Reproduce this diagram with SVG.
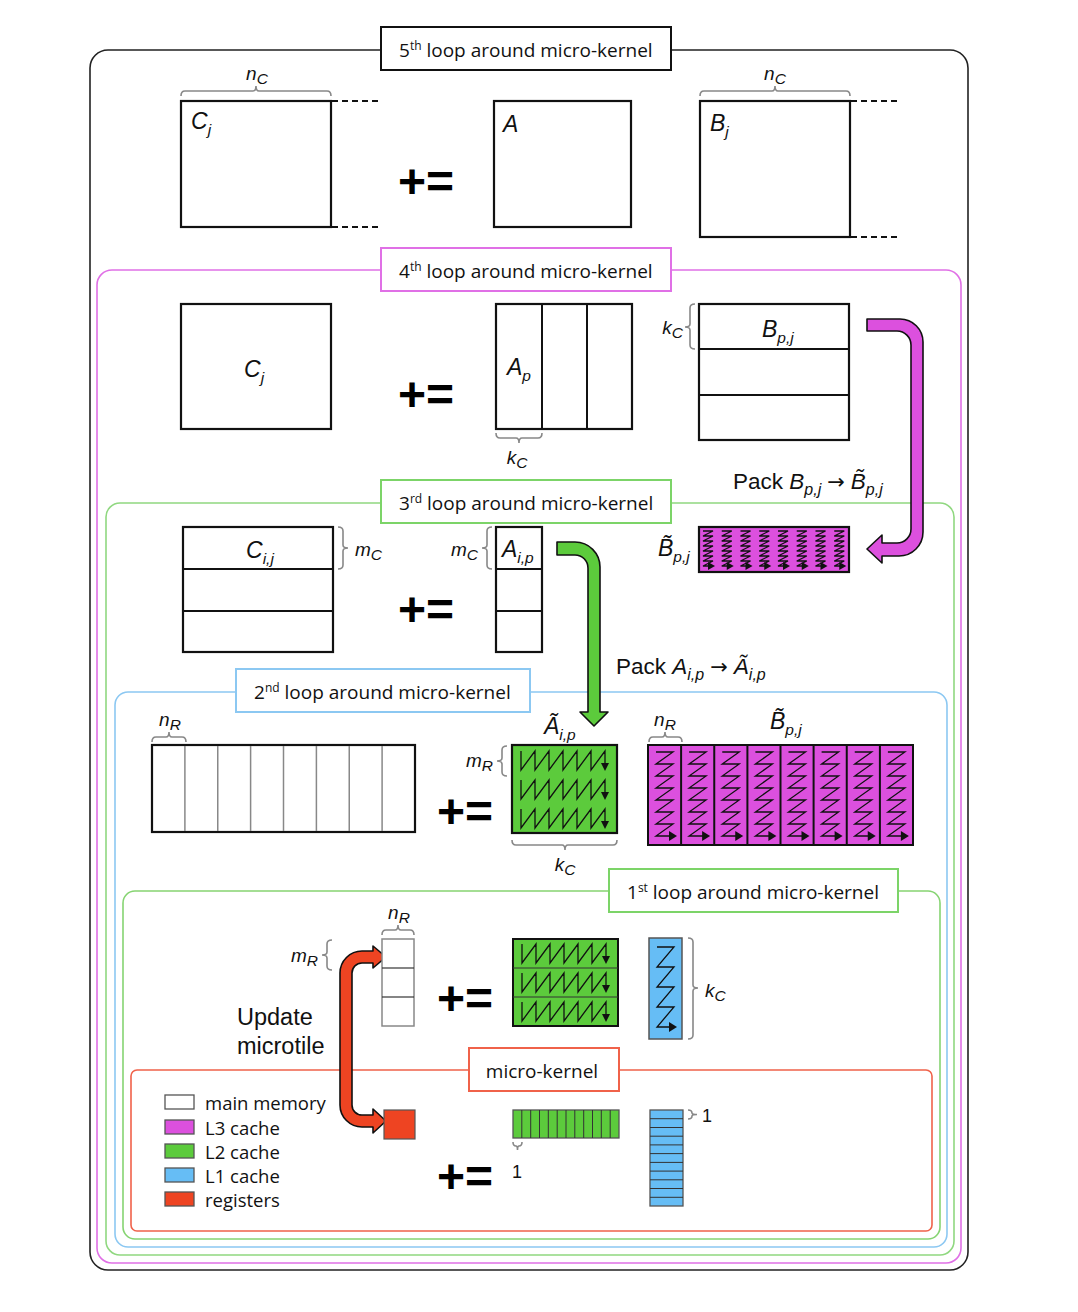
<svg xmlns="http://www.w3.org/2000/svg" xmlns:xlink="http://www.w3.org/1999/xlink" width="1078" height="1312" viewBox="0 0 1078 1312">
<style>
.frame{fill:none;stroke-width:1.6}
.lbox{fill:#fff;stroke-width:2}
.ltxt{font-family:"Open Sans","Liberation Sans",sans-serif;font-size:19px;fill:#111}
.sup{font-size:12px}
.m{font-family:"Liberation Sans",Arial,sans-serif;font-style:italic;fill:#111}
.big{font-size:23px}
.mid{font-size:19px}
.sub{font-size:15.5px}
.op{font-family:"Liberation Sans",Arial,sans-serif;font-weight:bold;font-size:48px;fill:#000}
.mat{fill:#fff;stroke:#111;stroke-width:2.2}
.div{stroke:#111;stroke-width:2}
.gdiv{stroke:#888;stroke-width:1.5}
.brace{fill:none;stroke:#888;stroke-width:1.6}
.dash{stroke:#111;stroke-width:2;stroke-dasharray:6 4}
.zz{fill:none;stroke:#111;stroke-width:1.3}
.ah{fill:#111}
.txt{font-family:"Liberation Sans",Arial,sans-serif;fill:#111}
.arr{font-family:"DejaVu Sans",sans-serif;font-size:21px;font-style:normal}
.leg{font-family:"Open Sans","Liberation Sans",sans-serif;font-size:18.5px;fill:#111}
</style>
<defs>
<g id="bcol"><path class="zz" d="M8,7 H25 L8,19 H25 L8,31 H25 L8,43 H25 L8,55 H25 L8,67 H25 L8,79 H25 L8,91 H22"/><polygon class="ah" points="21,86 29,91 21,96"/></g>
<g id="bsc"><path class="zz" d="M4,4 H14 L4,9 H14 L4,14 H14 L4,19 H14 L4,24 H14 L4,29 H14 L4,34 H14 L4,39 H10"/><polygon class="ah" points="9,35 16,39 9,43"/></g>
<g id="arow"><path class="zz" d="M9,5 V24 L23,5 V24 L37,5 V24 L51,5 V24 L65,5 V24 L79,5 V24 L93,5 V18"/><polygon class="ah" points="89,17 97,17 93,25"/></g>
<g id="lcol"><path class="zz" d="M8,9 H25 L8,29 H25 L8,49 H25 L8,69 H25 L8,89 H21"/><polygon class="ah" points="20,84 28,89 20,94"/></g>
</defs>

<!-- frames -->
<g id="frames">
<rect class="frame" x="90" y="50" width="878" height="1220" rx="18" stroke="#222"/>
<rect class="frame" x="97" y="270" width="864" height="993" rx="15" stroke="#e070e6"/>
<rect class="frame" x="106" y="503" width="848" height="752" rx="14" stroke="#90d880"/>
<rect class="frame" x="115" y="692" width="832" height="555" rx="13" stroke="#8cc8f2"/>
<rect class="frame" x="123" y="891" width="817" height="348" rx="12" stroke="#86d472"/>
<rect class="frame" x="131" y="1070" width="801" height="161" rx="6" stroke="#f0624a"/>
</g>

<g id="label5"><rect class="lbox" x="381" y="27" width="290" height="43" stroke="#111"/><text class="ltxt" x="399" y="57">5<tspan class="sup" dy="-7">th</tspan><tspan dy="7"> loop around micro-kernel</tspan></text></g>
<g id="label4"><rect class="lbox" x="381" y="248" width="290" height="43" stroke="#e070e6"/><text class="ltxt" x="399" y="278">4<tspan class="sup" dy="-7">th</tspan><tspan dy="7"> loop around micro-kernel</tspan></text></g>
<g id="label3"><rect class="lbox" x="381" y="480" width="290" height="43" stroke="#7cd468"/><text class="ltxt" x="399" y="510">3<tspan class="sup" dy="-7">rd</tspan><tspan dy="7"> loop around micro-kernel</tspan></text></g>
<g id="label2"><rect class="lbox" x="236" y="669" width="294" height="43" stroke="#8cc8f2"/><text class="ltxt" x="254" y="699">2<tspan class="sup" dy="-7">nd</tspan><tspan dy="7"> loop around micro-kernel</tspan></text></g>
<g id="label1"><rect class="lbox" x="609" y="869" width="289" height="43" stroke="#7cd468"/><text class="ltxt" x="627" y="899">1<tspan class="sup" dy="-7">st</tspan><tspan dy="7"> loop around micro-kernel</tspan></text></g>
<g id="labelmk"><rect class="lbox" x="469" y="1048" width="150" height="43" stroke="#f0624a"/><text class="ltxt" x="542" y="1078" text-anchor="middle">micro-kernel</text></g>

<!-- 5th loop -->
<g id="Cj5">
<rect class="mat" x="181" y="101" width="150" height="126"/>
<line class="dash" x1="332" y1="101" x2="380" y2="101"/>
<line class="dash" x1="332" y1="227" x2="380" y2="227"/>
<path class="brace" d="M181 96 Q181 91 185 91 H253 Q256 91 256 86 Q256 91 259 91 H327 Q331 91 331 96"/>
<text class="m mid" x="257" y="80" text-anchor="middle">n<tspan class="sub" dy="4">C</tspan></text>
<text class="m big" x="191" y="129">C<tspan class="sub" dy="6">j</tspan></text>
</g>
<text class="op" x="398" y="198">+=</text>
<g id="A5">
<rect class="mat" x="494" y="101" width="137" height="126"/>
<text class="m big" x="503" y="132">A</text>
</g>
<g id="Bj5">
<rect class="mat" x="700" y="101" width="150" height="136"/>
<line class="dash" x1="851" y1="101" x2="898" y2="101"/>
<line class="dash" x1="851" y1="237" x2="898" y2="237"/>
<path class="brace" d="M700 96 Q700 91 704 91 H772 Q775 91 775 86 Q775 91 778 91 H846 Q850 91 850 96"/>
<text class="m mid" x="775" y="80" text-anchor="middle">n<tspan class="sub" dy="4">C</tspan></text>
<text class="m big" x="710" y="131">B<tspan class="sub" dy="6">j</tspan></text>
</g>

<!-- 4th loop -->
<g id="Cj4">
<rect class="mat" x="181" y="304" width="150" height="125"/>
<text class="m big" x="244" y="377">C<tspan class="sub" dy="6">j</tspan></text>
</g>
<text class="op" x="398" y="411">+=</text>
<g id="Ap">
<rect class="mat" x="496" y="304" width="136" height="125"/>
<line class="div" x1="542" y1="304" x2="542" y2="429"/>
<line class="div" x1="587" y1="304" x2="587" y2="429"/>
<text class="m big" x="507" y="375">A<tspan class="sub" dy="6">p</tspan></text>
<path class="brace" d="M496 433 Q496 438 500 438 H516 Q519 438 519 443 Q519 438 522 438 H538 Q542 438 542 433"/>
<text class="m mid" x="517" y="464" text-anchor="middle">k<tspan class="sub" dy="4">C</tspan></text>
</g>
<g id="Bpj">
<rect class="mat" x="699" y="304" width="150" height="136"/>
<line class="div" x1="699" y1="349" x2="849" y2="349"/>
<line class="div" x1="699" y1="395" x2="849" y2="395"/>
<text class="m big" x="762" y="337">B<tspan class="sub" dy="6">p,j</tspan></text>
<path class="brace" d="M695 304 Q690 304 690 308 V324 Q690 327 685 327 Q690 327 690 330 V345 Q690 349 695 349"/>
<text class="m mid" x="683" y="334" text-anchor="end">k<tspan class="sub" dy="4">C</tspan></text>
</g>

<g id="connectors">
<path d="M867 319 H900 A23 23 0 0 1 923 342 V532 A24 24 0 0 1 899 556 H882 V563 L867 549 L882 535 V543 H897 A14 14 0 0 0 911 529 V345 A14 14 0 0 0 897 331 H867 Z" fill="#dc50de" stroke="#111" stroke-width="1.6" stroke-linejoin="round"/>
<path d="M557 542 H575 A25 25 0 0 1 600 567 V712 H608 L594 726 L580 712 H588 V568 A13 13 0 0 0 575 555 H557 Z" fill="#5ccb3c" stroke="#111" stroke-width="1.6" stroke-linejoin="round"/>
<path d="M373 951 H362 A22 22 0 0 0 340 973 V1105 A22 22 0 0 0 362 1127 H373 V1133 L386 1121 L373 1109 V1115 H362 A10 10 0 0 1 352 1105 V973 A10 10 0 0 1 362 963 H373 V968 L386 957 L373 946 Z" fill="#ee4422" stroke="#111" stroke-width="1.6" stroke-linejoin="round"/>
</g>

<text class="txt" x="733" y="489" font-size="22.5">Pack <tspan font-style="italic">B</tspan><tspan font-style="italic" font-size="16" dy="6">p,j</tspan><tspan dy="-6" dx="6" class="arr">→</tspan><tspan font-style="italic" dx="6">B&#x303;</tspan><tspan font-style="italic" font-size="16" dy="6">p,j</tspan></text>

<g id="Bpack">
<rect x="699" y="527" width="150" height="45" fill="#dc50de" stroke="#111" stroke-width="2.2"/>
<use xlink:href="#bsc" x="699" y="527"/><use xlink:href="#bsc" x="717.75" y="527"/><use xlink:href="#bsc" x="736.5" y="527"/><use xlink:href="#bsc" x="755.25" y="527"/>
<use xlink:href="#bsc" x="774" y="527"/><use xlink:href="#bsc" x="792.75" y="527"/><use xlink:href="#bsc" x="811.5" y="527"/><use xlink:href="#bsc" x="830.25" y="527"/>
<text class="m big" x="658" y="556">B&#x303;<tspan class="sub" dy="6">p,j</tspan></text>
</g>

<!-- 3rd loop -->
<g id="Cij">
<rect class="mat" x="183" y="527" width="150" height="125"/>
<line class="div" x1="183" y1="569" x2="333" y2="569"/>
<line class="div" x1="183" y1="611" x2="333" y2="611"/>
<text class="m big" x="246" y="558">C<tspan class="sub" dy="6">i,j</tspan></text>
<path class="brace" d="M338 527 Q343 527 343 531 V545 Q343 548 348 548 Q343 548 343 551 V565 Q343 569 338 569"/>
<text class="m mid" x="355" y="556">m<tspan class="sub" dy="4">C</tspan></text>
</g>
<text class="op" x="398" y="626">+=</text>
<g id="Aip">
<rect class="mat" x="496" y="527" width="46" height="125"/>
<line class="div" x1="496" y1="569" x2="542" y2="569"/>
<line class="div" x1="496" y1="611" x2="542" y2="611"/>
<text class="m big" x="502" y="557">A<tspan class="sub" dy="6">i,p</tspan></text>
<path class="brace" d="M492 527 Q487 527 487 531 V545 Q487 548 482 548 Q487 548 487 551 V565 Q487 569 492 569"/>
<text class="m mid" x="478" y="556" text-anchor="end">m<tspan class="sub" dy="4">C</tspan></text>
</g>

<text class="txt" x="616" y="674" font-size="22.5">Pack <tspan font-style="italic">A</tspan><tspan font-style="italic" font-size="16" dy="6">i,p</tspan><tspan dy="-6" dx="6" class="arr">→</tspan><tspan font-style="italic" dx="6">A&#x303;</tspan><tspan font-style="italic" font-size="16" dy="6">i,p</tspan></text>

<!-- 2nd loop -->
<g id="Crow">
<rect class="mat" x="152" y="745" width="263" height="87"/>
<line class="gdiv" x1="184.9" y1="746" x2="184.9" y2="831"/><line class="gdiv" x1="217.75" y1="746" x2="217.75" y2="831"/>
<line class="gdiv" x1="250.6" y1="746" x2="250.6" y2="831"/><line class="gdiv" x1="283.5" y1="746" x2="283.5" y2="831"/>
<line class="gdiv" x1="316.4" y1="746" x2="316.4" y2="831"/><line class="gdiv" x1="349.25" y1="746" x2="349.25" y2="831"/>
<line class="gdiv" x1="382.1" y1="746" x2="382.1" y2="831"/>
<path class="brace" d="M152 742 Q152 737 156 737 H166 Q169 737 169 732 Q169 737 172 737 H182 Q186 737 186 742"/>
<text class="m mid" x="170" y="726" text-anchor="middle">n<tspan class="sub" dy="4">R</tspan></text>
</g>
<text class="op" x="437" y="828">+=</text>
<g id="Apack">
<rect x="512" y="745" width="105" height="88" fill="#5ccb3c" stroke="#111" stroke-width="2.2"/>
<use xlink:href="#arow" x="512" y="746"/><use xlink:href="#arow" x="512" y="775"/><use xlink:href="#arow" x="512" y="804"/>
<text class="m big" x="544" y="734">A&#x303;<tspan class="sub" dy="6">i,p</tspan></text>
<path class="brace" d="M507 746 Q502 746 502 750 V758 Q502 761 497 761 Q502 761 502 764 V772 Q502 776 507 776"/>
<text class="m mid" x="493" y="767" text-anchor="end">m<tspan class="sub" dy="4">R</tspan></text>
<path class="brace" d="M512 840 Q512 845 516 845 H562 Q565 845 565 850 Q565 845 568 845 H613 Q617 845 617 840"/>
<text class="m mid" x="565" y="871" text-anchor="middle">k<tspan class="sub" dy="4">C</tspan></text>
</g>
<g id="Bpack2">
<rect x="648" y="745" width="265" height="100" fill="#dc50de" stroke="#111" stroke-width="2"/>
<line class="div" x1="681.1" y1="745" x2="681.1" y2="845" stroke-width="1"/><line class="div" x1="714.25" y1="745" x2="714.25" y2="845" stroke-width="1"/>
<line class="div" x1="747.4" y1="745" x2="747.4" y2="845" stroke-width="1"/><line class="div" x1="780.5" y1="745" x2="780.5" y2="845" stroke-width="1"/>
<line class="div" x1="813.6" y1="745" x2="813.6" y2="845" stroke-width="1"/><line class="div" x1="846.75" y1="745" x2="846.75" y2="845" stroke-width="1"/>
<line class="div" x1="879.9" y1="745" x2="879.9" y2="845" stroke-width="1"/>
<use xlink:href="#bcol" x="648" y="745"/><use xlink:href="#bcol" x="681.1" y="745"/><use xlink:href="#bcol" x="714.25" y="745"/><use xlink:href="#bcol" x="747.4" y="745"/>
<use xlink:href="#bcol" x="780.5" y="745"/><use xlink:href="#bcol" x="813.6" y="745"/><use xlink:href="#bcol" x="846.75" y="745"/><use xlink:href="#bcol" x="879.9" y="745"/>
<path class="brace" d="M649 742 Q649 737 653 737 H662 Q665 737 665 732 Q665 737 668 737 H678 Q682 737 682 742"/>
<text class="m mid" x="665" y="726" text-anchor="middle">n<tspan class="sub" dy="4">R</tspan></text>
<text class="m big" x="770" y="729">B&#x303;<tspan class="sub" dy="6">p,j</tspan></text>
</g>

<!-- 1st loop -->
<g id="Ccol">
<rect x="382" y="939" width="32" height="87" fill="#fff" stroke="#888" stroke-width="1.5"/>
<line x1="382" y1="968" x2="414" y2="968" stroke="#333" stroke-width="1.2"/>
<line x1="382" y1="997" x2="414" y2="997" stroke="#333" stroke-width="1.2"/>
<path class="brace" d="M382 935 Q382 930 386 930 H395 Q398 930 398 925 Q398 930 401 930 H410 Q414 930 414 935"/>
<text class="m mid" x="399" y="919" text-anchor="middle">n<tspan class="sub" dy="4">R</tspan></text>
<path class="brace" d="M332 940 Q327 940 327 944 V952 Q327 955 322 955 Q327 955 327 958 V966 Q327 970 332 970"/>
<text class="m mid" x="318" y="962" text-anchor="end">m<tspan class="sub" dy="4">R</tspan></text>
</g>
<text class="txt" x="237" y="1025" font-size="23.5">Update</text>
<text class="txt" x="237" y="1054" font-size="23.5">microtile</text>
<text class="op" x="437" y="1015">+=</text>
<g id="Apanel">
<rect x="513" y="939" width="105" height="87" fill="#5ccb3c" stroke="#111" stroke-width="2"/>
<line x1="513" y1="968" x2="618" y2="968" stroke="#333" stroke-width="1"/>
<line x1="513" y1="997" x2="618" y2="997" stroke="#333" stroke-width="1"/>
<use xlink:href="#arow" x="513" y="939"/><use xlink:href="#arow" x="513" y="968"/><use xlink:href="#arow" x="513" y="997"/>
</g>
<g id="Bpanel">
<rect x="649" y="938" width="33" height="101" fill="#66bdf5" stroke="#555" stroke-width="1.5"/>
<use xlink:href="#lcol" x="649" y="938"/>
<path class="brace" d="M688 938 Q693 938 693 942 V985 Q693 988 698 988 Q693 988 693 991 V1035 Q693 1039 688 1039"/>
<text class="m mid" x="705" y="997">k<tspan class="sub" dy="4">C</tspan></text>
</g>

<!-- micro-kernel -->
<g id="legend">
<rect x="165" y="1095" width="29" height="14" fill="#fff" stroke="#555" stroke-width="1.3"/>
<text class="leg" x="205" y="1110">main memory</text>
<rect x="165" y="1120" width="29" height="14" fill="#dc50de" stroke="#555" stroke-width="1.3"/>
<text class="leg" x="205" y="1135">L3 cache</text>
<rect x="165" y="1144" width="29" height="14" fill="#5ccb3c" stroke="#555" stroke-width="1.3"/>
<text class="leg" x="205" y="1159">L2 cache</text>
<rect x="165" y="1168" width="29" height="14" fill="#66bdf5" stroke="#555" stroke-width="1.3"/>
<text class="leg" x="205" y="1183">L1 cache</text>
<rect x="165" y="1192" width="29" height="14" fill="#ee4422" stroke="#555" stroke-width="1.3"/>
<text class="leg" x="205" y="1207">registers</text>
</g>
<g id="Creg"><rect x="384" y="1110" width="31" height="29" fill="#ee4422" stroke="#555" stroke-width="1.2"/></g>
<text class="op" x="437" y="1193">+=</text>
<g id="Arow">
<rect x="513" y="1110" width="106" height="28" fill="#5ccb3c" stroke="#555" stroke-width="1.3"/>
<path d="M521.8 1110V1138M530.7 1110V1138M539.5 1110V1138M548.3 1110V1138M557.2 1110V1138M566 1110V1138M574.8 1110V1138M583.7 1110V1138M592.5 1110V1138M601.3 1110V1138M610.2 1110V1138" stroke="#333" stroke-width="1"/>
<path class="brace" d="M513 1142 Q513 1146 516 1146 Q517.5 1146 517.5 1150 Q517.5 1146 519 1146 Q522 1146 522 1142"/>
<text class="txt" x="517" y="1178" font-size="18" text-anchor="middle">1</text>
</g>
<g id="Bcol">
<rect x="650" y="1110" width="33" height="96" fill="#66bdf5" stroke="#555" stroke-width="1.3"/>
<path d="M650 1118.7H683M650 1127.5H683M650 1136.2H683M650 1144.9H683M650 1153.6H683M650 1162.4H683M650 1171.1H683M650 1179.8H683M650 1188.5H683M650 1197.3H683" stroke="#333" stroke-width="1"/>
<path class="brace" d="M688 1110 Q692 1110 692 1113 Q692 1114.5 697 1114.5 Q692 1114.5 692 1116 Q692 1119 688 1119"/>
<text class="txt" x="702" y="1122" font-size="18">1</text>
</g>
</svg>
